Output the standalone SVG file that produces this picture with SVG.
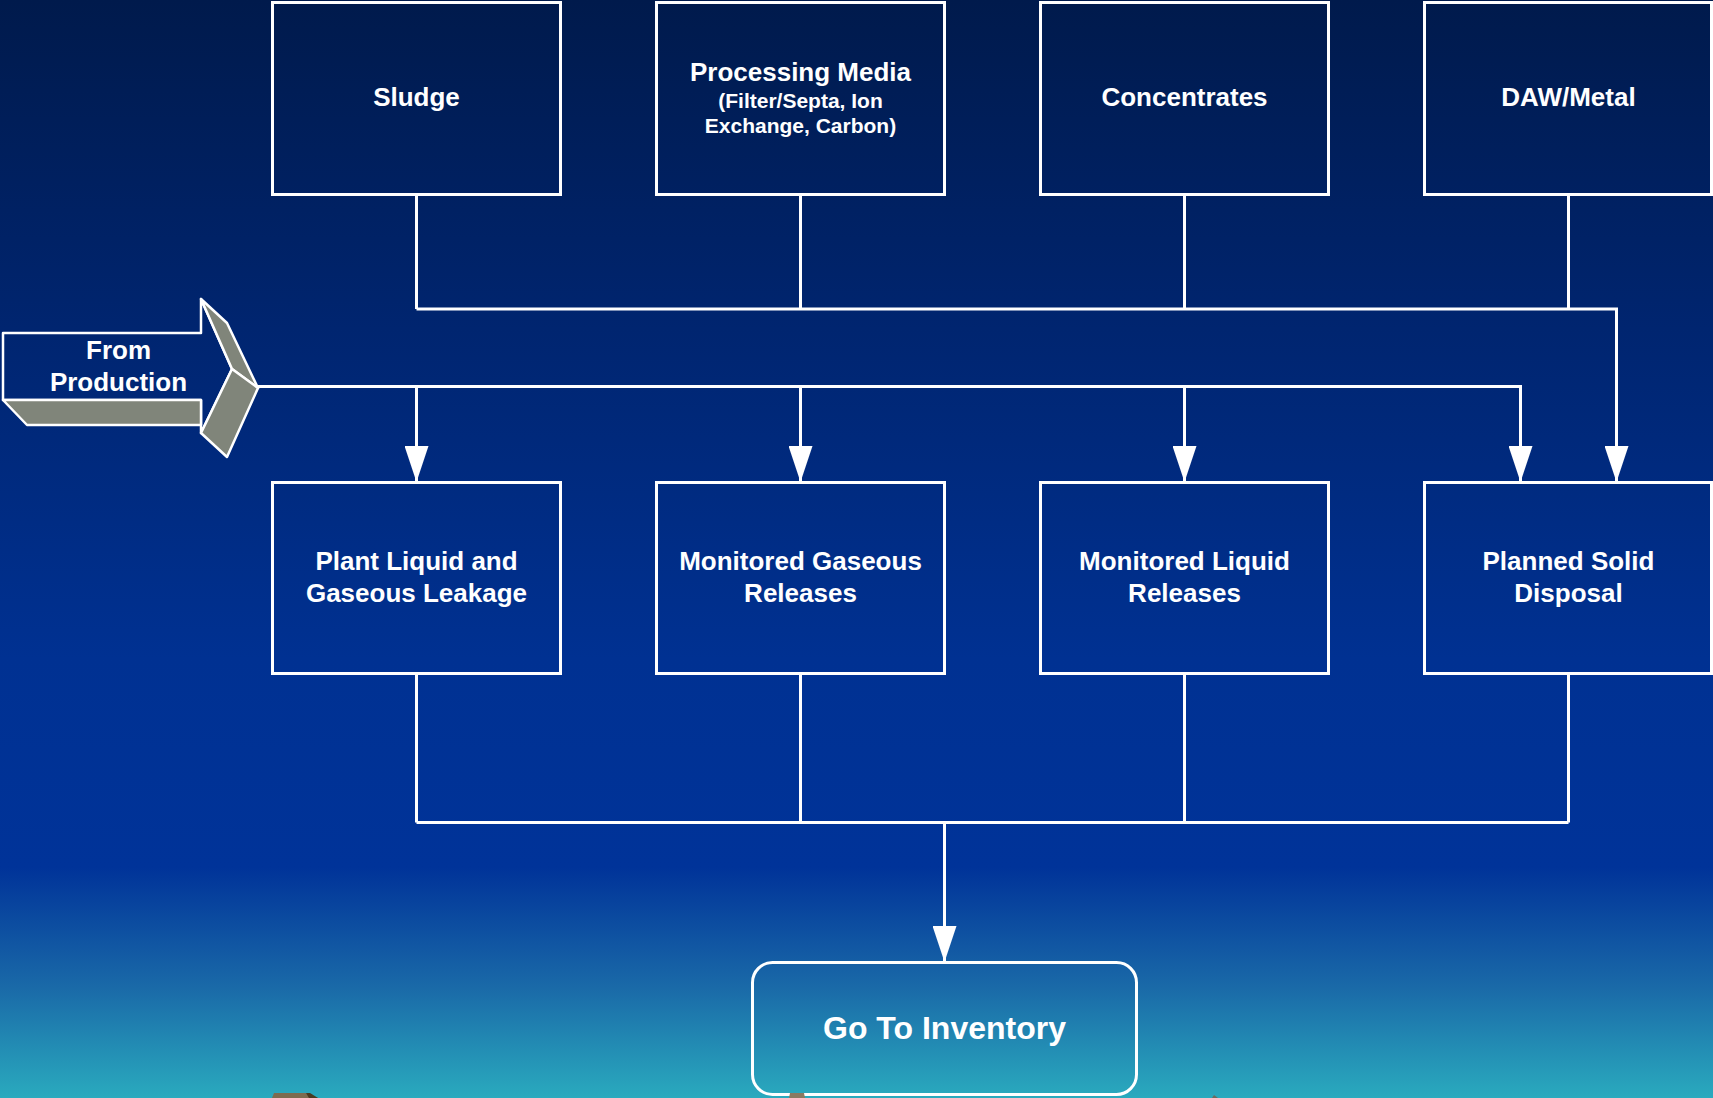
<svg xmlns="http://www.w3.org/2000/svg" width="1713" height="1098" viewBox="0 0 1713 1098">
  <defs>
    <linearGradient id="bg" x1="0" y1="0" x2="0" y2="1098" gradientUnits="userSpaceOnUse">
      <stop offset="0" stop-color="#001a4c"/>
      <stop offset="0.3" stop-color="#002570"/>
      <stop offset="0.6" stop-color="#003192"/>
      <stop offset="0.79" stop-color="#003399"/>
      <stop offset="0.9" stop-color="#1a6aa8"/>
      <stop offset="1" stop-color="#2aaabe"/>
    </linearGradient>
    <marker id="arr" viewBox="0 0 24 36" refX="24" refY="12" markerWidth="24" markerHeight="36" markerUnits="userSpaceOnUse" orient="auto">
      <path d="M0,0 L36,12 L0,24 Z" fill="#ffffff"/>
    </marker>
    <marker id="ah" viewBox="0 0 36 24" refX="36" refY="12" markerWidth="36" markerHeight="24" markerUnits="userSpaceOnUse" orient="auto">
      <path d="M0,0 L36,12 L0,24 Z" fill="#ffffff"/>
    </marker>
  </defs>
  <style>
    .box { fill: none; stroke: #ffffff; stroke-width: 3; }
    .lbl { font-family: "Liberation Sans", Arial, sans-serif; font-weight: bold; fill: #ffffff; text-anchor: middle; font-size: 26px; }
    .sub { font-size: 21px; }
    .big { font-size: 32px; }
    .wire { fill: none; stroke: #ffffff; stroke-width: 3; }
    .face { fill: #80857a; stroke: #ffffff; stroke-width: 2.5; stroke-linejoin: round; }
  </style>
  <rect x="0" y="0" width="1713" height="1098" fill="url(#bg)"/>

  <g id="connectors">
    <path class="wire" d="M416.5,194 V309 M800.5,194 V309 M1184.5,194 V309 M1568.5,194 V309 M416.5,309 H1616.5 V482" marker-end="url(#ah)"/>
    <path class="wire" d="M258,386.5 H1520.5 V482" marker-end="url(#ah)"/>
    <path class="wire" d="M416.5,386.5 V482" marker-end="url(#ah)"/>
    <path class="wire" d="M800.5,386.5 V482" marker-end="url(#ah)"/>
    <path class="wire" d="M1184.5,386.5 V482" marker-end="url(#ah)"/>
    <path class="wire" d="M416.5,674 V822.5 M800.5,674 V822.5 M1184.5,674 V822.5 M1568.5,674 V822.5 M416.5,822.5 H1568.5"/>
    <path class="wire" d="M944.5,822.5 V962" marker-end="url(#ah)"/>
  </g>

  <g id="sludge">
    <rect class="box" x="272.5" y="2.5" width="288" height="192"/>
    <text class="lbl" x="416.5" y="106">Sludge</text>
  </g>
  <g id="processing-media">
    <rect class="box" x="656.5" y="2.5" width="288" height="192"/>
    <text class="lbl" x="800.5" y="81">Processing Media</text>
    <text class="lbl sub" x="800.5" y="108">(Filter/Septa, Ion</text>
    <text class="lbl sub" x="800.5" y="133">Exchange, Carbon)</text>
  </g>
  <g id="concentrates">
    <rect class="box" x="1040.5" y="2.5" width="288" height="192"/>
    <text class="lbl" x="1184.5" y="106">Concentrates</text>
  </g>
  <g id="daw-metal">
    <rect class="box" x="1424.5" y="2.5" width="287" height="192"/>
    <text class="lbl" x="1568.5" y="106">DAW/Metal</text>
  </g>

  <g id="from-production">
    <polygon points="3,333 201,333 201,299 232,369 201,433 201,400 3,400" fill="none" stroke="#ffffff" stroke-width="2.5" stroke-linejoin="round"/>
    <polygon class="face" points="3,400 27,425 201,425 201,400"/>
    <polygon class="face" points="201,299 227,323 258,388 232,369"/>
    <polygon class="face" points="232,369 258,388 227,457 201,433"/>
    <text class="lbl" x="118.5" y="359">From</text>
    <text class="lbl" x="118.5" y="390.5">Production</text>
  </g>

  <g id="plant-leakage">
    <rect class="box" x="272.5" y="482.5" width="288" height="191"/>
    <text class="lbl" x="416.5" y="570">Plant Liquid and</text>
    <text class="lbl" x="416.5" y="602">Gaseous Leakage</text>
  </g>
  <g id="monitored-gaseous">
    <rect class="box" x="656.5" y="482.5" width="288" height="191"/>
    <text class="lbl" x="800.5" y="570">Monitored Gaseous</text>
    <text class="lbl" x="800.5" y="602">Releases</text>
  </g>
  <g id="monitored-liquid">
    <rect class="box" x="1040.5" y="482.5" width="288" height="191"/>
    <text class="lbl" x="1184.5" y="570">Monitored Liquid</text>
    <text class="lbl" x="1184.5" y="602">Releases</text>
  </g>
  <g id="planned-solid">
    <rect class="box" x="1424.5" y="482.5" width="287" height="191"/>
    <text class="lbl" x="1568.5" y="570">Planned Solid</text>
    <text class="lbl" x="1568.5" y="602">Disposal</text>
  </g>

  <g id="go-to-inventory">
    <rect class="box" x="752.5" y="962.5" width="384" height="132" rx="20" ry="20"/>
    <text class="lbl big" x="944.5" y="1039">Go To Inventory</text>
  </g>

  <polygon points="272,1098 274,1093 306,1093 318,1098" fill="#7d6b4f"/>
  <polygon points="306,1093 310,1093 318,1098 309,1098" fill="#4a3a20"/>
  <polygon points="789,1098 790,1093 804,1093 805,1098" fill="#8a7a62"/>
  <polygon points="1212,1098 1214,1095 1218,1098" fill="#6d6a5e"/>
</svg>
